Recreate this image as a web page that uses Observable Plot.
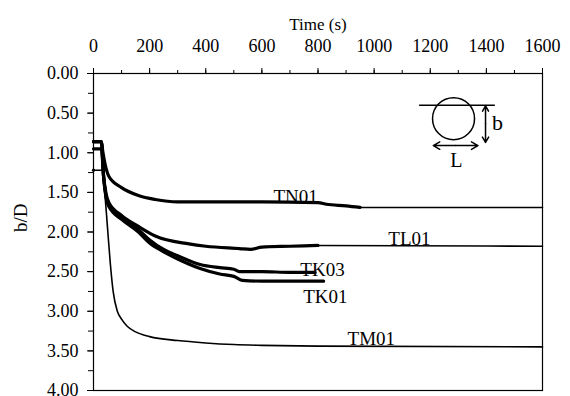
<!DOCTYPE html>
<html>
<head>
<meta charset="utf-8">
<script src="https://cdn.jsdelivr.net/npm/d3@7"></script>
<script src="https://cdn.jsdelivr.net/npm/@observablehq/plot@0.6"></script>
<style>
  html, body { margin: 0; padding: 0; background: #fff; }
  #chart { width: 570px; height: 396px; }
  #chart svg, #chart svg text { font-family: "Liberation Serif", "Times New Roman", serif !important; }
</style>
</head>
<body>
<div id="chart"></div>
<script>
// ---- data (time in s, b/D) ----
const seriesNames = ["TN01", "TL01", "TK03", "TK01", "TM01"];
const TN01 = [[0,0.86],[28,0.86],[33,0.98],[45,1.2],[55,1.3],[100,1.44],[160,1.54],[220,1.59],[300,1.62],[400,1.62],[600,1.62],[800,1.63],[830,1.65],[900,1.67],[950,1.69],[1600,1.69]];
const TL01 = [[0,0.95],[28,0.95],[36,1.3],[45,1.52],[55,1.63],[100,1.79],[160,1.93],[220,2.05],[340,2.15],[400,2.18],[520,2.21],[560,2.22],[600,2.19],[700,2.18],[800,2.17],[1600,2.18]];
const TK03 = [[0,0.86],[28,0.86],[36,1.3],[45,1.55],[55,1.66],[100,1.82],[160,1.97],[200,2.1],[250,2.22],[300,2.3],[380,2.41],[450,2.45],[500,2.47],[520,2.5],[600,2.5],[700,2.51],[790,2.51]];
const TK01 = [[0,0.86],[28,0.86],[36,1.3],[45,1.57],[55,1.68],[100,1.84],[160,2.0],[200,2.14],[250,2.25],[300,2.34],[380,2.46],[450,2.53],[500,2.56],[530,2.61],[600,2.62],[700,2.62],[820,2.62]];
const TM01 = [[0,1.22],[30,1.22],[40,1.5],[50,1.95],[60,2.4],[70,2.75],[85,3.0],[100,3.1],[120,3.19],[150,3.26],[200,3.32],[300,3.37],[400,3.4],[500,3.42],[600,3.43],[800,3.44],[1600,3.45]];
const thickUntil = [950, 800, 790, 820, 0];   // where the heavy trace ends
const xTicks = [0,200,400,600,800,1000,1200,1400,1600];
const yTicks = [0,0.5,1,1.5,2,2.5,3,3.5,4];
// label anchor points (time, b/D)
const labelT = [720, 1126, 816, 826, 990];
const labelV = [1.63, 2.17, 2.55, 2.9, 3.42];

const allSeries = [TN01, TL01, TK03, TK01, TM01];
const rows = allSeries.flatMap((s, i) => s.map(([t, v]) => ({name: seriesNames[i], t, v, thick: t <= thickUntil[i]})));
const labels = seriesNames.map((n, i) => ({name: n, t: labelT[i], v: labelV[i]}));

const font = "Liberation Serif, Times New Roman, serif";

const chart = Plot.plot({
  width: 570,
  height: 396,
  marginLeft: 93,
  marginRight: 28,
  marginTop: 73,
  marginBottom: 6,
  style: {fontFamily: font, fontSize: "18px", color: "black", background: "white"},
  x: {domain: [0, 1600]},
  y: {domain: [0, 4], reverse: true},
  marks: [
    Plot.frame({stroke: "black", strokeWidth: 1.2}),
    // x axis (top)
    Plot.axisX({anchor: "top", ticks: d3.range(0, 1601, 100), tickSize: 4, text: null, label: null}),
    Plot.axisX({anchor: "top", ticks: xTicks, tickSize: 6, tickPadding: 16, label: null, fontSize: 18, tickFormat: d3.format("d")}),
    // y axis (left)
    Plot.axisY({anchor: "left", ticks: d3.range(0, 4.01, 0.25), tickSize: 5, text: null, label: null}),
    Plot.axisY({anchor: "left", ticks: yTicks, tickSize: 6, tickPadding: 9, label: null, fontSize: 18, tickFormat: d3.format(".2f")}),
    Plot.text(["Time (s)"], {frameAnchor: "top", dy: -56, fontSize: 17}),
    Plot.text(["b/D"], {frameAnchor: "left", dx: -73, rotate: -90, fontSize: 19}),
    // thin traces
    Plot.line(rows, {x: "t", y: "v", z: "name", stroke: "black", strokeWidth: 1.6, curve: "monotone-x"}),
    // heavy traces
    Plot.line(rows.filter(d => d.thick), {x: "t", y: "v", z: "name", stroke: "black", strokeWidth: 3.2, curve: "monotone-x"}),
    // series labels
    Plot.text(labels, {x: "t", y: "v", text: "name", lineAnchor: "bottom", fontSize: 19, fill: "black"}),
    // inset sketch
    Plot.dot([{t: 1283, v: 0.57}], {x: "t", y: "v", r: 21, stroke: "black", strokeWidth: 1.5, fill: "white"}),
    Plot.ruleY([0.40], {x1: 1162, x2: 1432, stroke: "black", strokeWidth: 1.5}),
    Plot.arrow([{a: 0.635, b: 0.41}, {a: 0.635, b: 0.87}], {x1: 1397, x2: 1397, y1: "a", y2: "b", headLength: 8, strokeWidth: 1.5, stroke: "black"}),
    Plot.arrow([{a: 1290, b: 1211}, {a: 1290, b: 1370}], {y1: 0.91, y2: 0.91, x1: "a", x2: "b", headLength: 8, strokeWidth: 1.5, stroke: "black"}),
    Plot.text(["b"], {x: 1440, y: 0.62, fontSize: 22}),
    Plot.text(["L"], {x: 1293, y: 1.10, fontSize: 20})
  ]
});
document.getElementById("chart").appendChild(chart);
</script>
</body>
</html>
